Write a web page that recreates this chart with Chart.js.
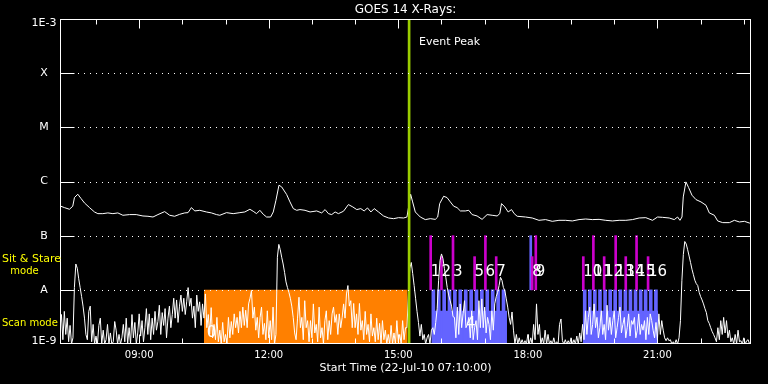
<!DOCTYPE html>
<html><head><meta charset="utf-8">
<script src="https://cdn.jsdelivr.net/npm/chart.js@4/dist/chart.umd.min.js"></script>
<style>html,body{margin:0;padding:0;background:#000;}canvas{display:block;}</style>
</head><body>
<canvas id="c" width="768" height="384"></canvas>
<script>
// ---- time axis: minutes of day (22-Jul-10) ----
const START_MIN = 430;   // 07:10
const END_MIN = 1390;    // 23:10
const xTickHours = [480,540,600,660,720,780,840,900,960,1020,1080,1140,1200,1260,1320,1380];
const xLabelValues = [540,720,900,1080,1260];
const xLabelTexts = ['09:00','12:00','15:00','18:00','21:00'];

// ---- flux axis ----
const yLabelValues = [1e-9,1e-8,1e-7,1e-6,1e-5,1e-4,1e-3];
const yLabelTexts = ['1E-9','A','B','C','M','X','1E-3'];
const yGridValues = [1e-8,1e-7,1e-6,1e-5,1e-4];

// ---- GOES long channel (1-8 A), flux in 1e-7 W/m^2 ----
const longTimes = [430,436.1,443.1,447.7,450.1,454.7,459.3,464.0,471.0,477.9,482.6,489.5,496.5,503.5,510.4,517.4,526.7,535.9,545.2,552.2,559.2,566.1,575.4,582.4,589.3,596.3,603.3,607.9,612.6,617.2,624.2,633.4,640.4,647.4,652.0,661.3,670.6,679.9,686.8,693.8,698.4,703.1,707.7,712.4,717.0,722.6,726.3,730.0,734.2,737.9,744.9,749.5,754.1,758.8,763.4,770.4,777.4,786.6,793.6,798.3,802.9,807.5,812.2,816.8,823.8,830.7,836.8,842.3,847.9,852.6,857.2,861.9,866.5,872.5,879.5,886.5,893.4,900.4,907.4,
912.0,914.3,917.1,919.9,923.6,930.5,937.5,944.5,951.4,954.7,957.5,963.0,967.7,972.3,977.0,981.6,986.3,993.2,997.9,1002.5,1009.5,1016.4,1023.4,1030.4,1037.3,1041.0,1043.4,1048.0,1052.6,1057.3,1061.0,1065.2,1076.8,1086.1,1095.4,1104.6,1113.9,1123.2,1132.5,1141.8,1151.1,1160.4,1169.6,1178.9,1188.2,1197.5,1206.8,1216.1,1225.3,1234.6,1243.9,1253.2,1260.2,1267.1,1276.4,1283.4,1288.0,1291.3,1294.1,1295.9,1299.6,1303.3,1308.0,1313.6,1320.5,1327.5,1332.1,1339.1,1343.7,1350.7,1360.0,1366.9,1373.9,1380.9,1387.8,1390];
const longFluxE7 = [3.54,3.30,3.07,3.49,5.05,5.82,4.84,4.02,3.30,2.74,2.55,2.55,2.63,2.55,2.63,2.38,2.45,2.45,2.31,2.28,2.21,2.45,2.78,2.38,2.28,2.48,2.63,2.66,3.30,2.86,2.94,2.74,2.63,2.45,2.38,2.66,2.55,2.66,2.74,3.07,2.82,2.55,2.94,2.48,2.21,2.21,2.74,4.50,8.54,7.96,5.74,4.20,3.16,2.94,3.03,2.94,2.74,2.86,2.63,3.03,2.55,2.45,2.74,2.55,2.82,3.75,3.39,3.03,3.16,2.86,3.25,2.74,3.16,2.74,2.31,2.12,2.06,2.15,2.12,
2.21,3.39,5.82,4.20,2.74,2.21,1.98,2.06,2.00,2.21,3.91,5.34,5.05,4.20,3.49,3.30,2.86,2.86,2.94,2.45,2.31,2.00,2.45,2.38,2.31,2.55,3.91,3.39,2.74,3.03,2.55,2.28,2.21,2.12,1.92,1.98,1.84,1.92,1.92,1.87,1.98,2.03,1.98,2.00,1.92,1.87,1.92,1.92,1.98,2.12,2.15,1.92,2.21,2.18,2.12,1.98,2.21,1.92,2.21,5.19,9.84,7.73,5.58,4.63,4.20,3.64,2.63,2.38,1.87,1.74,1.74,1.92,1.79,1.84,1.71,1.71];

// ---- GOES short channel (0.5-4 A), 2-minute cadence from 07:10, flux in 1e-9 W/m^2 ----
const shortCadenceMin = 2;
const shortFluxE9 = [2.0,3.5,1.2,4.0,1.5,3.0,1.1,2.2,1.0,1.3,
11,30,25,16,11,7.5,5,3,1.5,
1.2,4.0,5.0,1.1,2.3,1.0,1.4,1.0,2.2,3.0,1.0,1.8,1.0,1.2,2.3,1.0,1.6,1.0,1.1,2.6,1.8,1.0,1.5,1.0,1.3,2.3,1.1,3.0,1.0,2.0,1.0,3.5,1.3,2.5,1.0,1.6,3.6,1.4,2.7,1.1,2.0,4.5,1.5,3.6,
1.2,3.0,1.5,4.0,1.8,2.6,5.2,1.5,3.8,2.2,4.5,1.3,3.0,5.0,2.0,3.5,7.0,3.0,6.5,2.5,5.0,8.0,4.0,7.0,3.5,6.0,11,5.0,7.0,3.0,5.0,2.0,8.0,4.0,6.0,
2.2,5.5,3.0,8.4,2.0,3.5,1.5,4.7,1.3,2.3,1.2,3.1,1.1,1.8,1.0,2.5,1.1,1.5,1.0,3.1,1.3,2.6,1.5,3.6,2.0,3.1,1.6,4.0,2.0,4.8,2.2,4.2,2.0,5.5,7.0,9.7,3.0,4.8,1.8,3.1,1.3,3.1,4.8,1.5,2.4,1.2,4.1,1.3,2.7,1.2,4.8,1.0,
1.5,40,69,55,40,30,21,14,11,9,7,5,3.1,1.6,
1.2,3.0,7.3,2.0,3.1,1.2,6.3,2.0,2.7,1.1,2.7,1.3,5.5,1.6,2.3,1.1,4.8,1.3,2.0,1.0,2.7,4.1,1.2,2.7,1.5,3.6,4.8,2.5,3.5,1.5,3.6,2.0,3.1,5.5,3.0,8.4,12,5.0,
6.3,2.0,5.6,2.0,3.6,1.5,5.6,1.8,2.7,1.2,4.0,1.5,2.3,1.1,3.6,1.4,2.0,1.1,3.0,1.2,2.4,1.0,2.7,1.2,1.8,1.0,1.5,1.0,2.2,1.0,1.6,1.0,2.7,1.1,1.5,1.0,2.7,1.2,2.0,
2.0,8,25,32,20,12,7,4,2.5,1.4,
2.3,1.2,1.5,1.0,1.3,1.5,1.0,1.8,
2.0,1.5,2.5,4.5,15,35,46,38,25,17,11,8,6.3,5,3.2,
3.1,1.3,4.8,1.5,5.5,2.0,3.6,6.3,2.0,2.3,3.1,1.3,4.1,1.2,2.0,2.7,1.2,6.3,2.0,6.8,2.0,4.8,1.6,3.1,2.3,1.2,4.1,1.8,
5.5,7.5,9,12,17,15,11,9.7,6.8,4.8,3.1,2.3,3.9,1.8,
1.0,1.5,1.0,1.3,1.0,1.2,1.0,1.15,1.0,1.5,1.0,1.3,1.0,2.3,1.2,5.5,1.5,2.3,1.0,1.3,1.0,1.8,1.0,1.5,1.0,1.15,1.0,1.3,1.0,1.1,1.0,2.3,2.9,1.15,1.0,1.2,1.0,1.15,1.0,1.3,1.0,1.2,1.0,1.4,1.0,1.6,1.1,
2.3,1.2,4.1,1.5,3.1,4.8,1.5,2.3,5.5,2.0,3.1,1.3,2.0,4.1,1.5,2.3,1.2,5.2,1.8,3.1,1.5,2.7,4.1,1.3,2.0,3.1,4.8,1.6,2.3,3.1,1.3,2.0,3.6,1.4,2.7,2.3,3.1,1.3,1.8,3.6,1.5,2.3,1.8,2.7,1.2,3.1,1.5,3.6,2.7,1.8,1.3,2.5,1.2,
3.6,1.5,2.7,1.8,1.3,1.15,1.3,1.15,1.2,1.0,1.1,1.0,1.2,1.0,1.3,
2.7,15,45,78,70,55,42,32,24,19,15,13,12,9,7.5,6.5,5.5,4.5,3.8,2.7,2.4,2.0,1.7,1.5,1.3,
1.1,2.0,1.2,2.7,1.5,3.1,1.6,2.7,1.3,1.8,1.1,1.3,1.0,1.5,1.0,1.8,1.1,1.15,1.0,1.3,1.0,1.15,1.2,1.0,1.15];

// ---- event peak ----
const eventPeakMin = 915;

// ---- orange observing block ----
const orangeBlockMin = [630, 913];
const orangeBlockTop = 1e-8;

// ---- Sit & Stare pointings ----
const sitStareMin = [945,960,976,1006,1021,1036,1086,1091,1157,1171,1186,1202,1216,1231,1247];
const sitStareTexts = ['1','2','3','5','6','7','8','9','10','11','12','13','14','15','16'];
const sitStareTall = [1,0,1,0,1,0,0,1,0,1,0,1,0,1,0];
const sitStareTallTop = 1e-7;
const sitStareShortTop = 4.1e-8;
const sitStareBase = 1e-8;
const sitStareLabelFlux = 2.1e-8;
const scanMarkerMin = [1084];
const extraLabelMin = [634, 994];
const extraLabelFlux = [1.6e-9, 2.3e-9];
const extraLabelTexts = ['0', '4'];

// ---- Scan mode ----
const scanBarMin = [948.7,956.2,963.7,971.1,978.6,986.1,993.7,1001.2,1008.6,1016.1,1023.6,1031.1,1038.7,1046.2,
1159.0,1166.1,1173.1,1180.2,1187.3,1194.4,1201.3,1208.4,1215.5,1222.5,1229.6,1236.7,1243.6,1250.7,1257.9];
const scanBarTop = 1e-8;
const scanBlockStart = [947, 1157];
const scanBlockEnd = [1051, 1261];
const scanBlockTop = 4.1e-9;

const FLOOR = 1e-9;
const WHITE = '#ffffff', ORANGE = '#ff8000', BLUE = '#6464ff', MAGENTA = '#cc00cc', GREEN = '#9acd00', YELLOW = '#ffff00';

const longData = longTimes.map((t,i)=>({x:t, y:longFluxE7[i]*1e-7}));
const shortData = shortFluxE9.map((v,i)=>({x:START_MIN + i*shortCadenceMin, y:v*1e-9}));

const datasets = [
  {type:'bar', data:[{x:eventPeakMin, y:[FLOOR,1e-3]}], backgroundColor:GREEN, barThickness:2, grouped:false, borderWidth:0},
  {type:'line', data:longData, borderColor:WHITE, borderWidth:1, pointRadius:0, fill:false},
  {type:'line', data:shortData, borderColor:WHITE, borderWidth:1, pointRadius:0, fill:false},
  {type:'bar', data:sitStareMin.map((t,i)=>({x:t, y:[sitStareBase, sitStareTall[i]?sitStareTallTop:sitStareShortTop]})), backgroundColor:MAGENTA, barThickness:2, grouped:false, borderWidth:0},
  {type:'bar', data:scanMarkerMin.map(t=>({x:t, y:[sitStareBase, sitStareTallTop]})), backgroundColor:BLUE, barThickness:2, grouped:false, borderWidth:0},
  {type:'bar', data:scanBarMin.map(t=>({x:t, y:[FLOOR, scanBarTop]})), backgroundColor:BLUE, barThickness:3, grouped:false, borderWidth:0}
];
scanBlockStart.forEach((s,i)=>{
  datasets.push({type:'line', data:[{x:s,y:scanBlockTop},{x:scanBlockEnd[i],y:scanBlockTop}], borderWidth:0, borderColor:'rgba(0,0,0,0)', backgroundColor:BLUE, pointRadius:0, fill:'start'});
});
datasets.push({type:'line', data:[{x:orangeBlockMin[0],y:orangeBlockTop},{x:orangeBlockMin[1],y:orangeBlockTop}], borderWidth:0, borderColor:'rgba(0,0,0,0)', backgroundColor:ORANGE, pointRadius:0, fill:'start'});

const FONT = '"DejaVu Sans", sans-serif';
const framePlugin = {
  id:'frame',
  afterDatasetsDraw(chart){
    const {ctx, chartArea:a, scales:{x, y}} = chart;
    const L = Math.round(a.left)+0.5, R = Math.round(a.right)-0.5, T = Math.round(a.top)+0.5, B = Math.round(a.bottom)-0.5;
    ctx.save();
    ctx.strokeStyle = WHITE; ctx.lineWidth = 1;
    // dotted decade grid and side ticks
    yGridValues.forEach(v=>{
      const py = Math.round(y.getPixelForValue(v))+0.5;
      ctx.setLineDash([]);
      ctx.beginPath(); ctx.moveTo(L,py); ctx.lineTo(L+14,py); ctx.moveTo(R-14,py); ctx.lineTo(R,py); ctx.stroke();
      ctx.setLineDash([1,5]);
      ctx.beginPath(); ctx.moveTo(Math.round(a.left)+18,py); ctx.lineTo(Math.round(a.right)-16,py); ctx.stroke();
    });
    ctx.setLineDash([]);
    // frame
    ctx.strokeRect(L, T, R-L, B-T);
    // time ticks
    xTickHours.forEach(m=>{
      const px = Math.round(x.getPixelForValue(m))+0.5;
      const len = xLabelValues.includes(m) ? 9 : 5;
      ctx.beginPath(); ctx.moveTo(px,T); ctx.lineTo(px,T+len); ctx.moveTo(px,B); ctx.lineTo(px,B-len); ctx.stroke();
    });
    // axis labels
    ctx.fillStyle = WHITE;
    ctx.textAlign = 'center'; ctx.textBaseline = 'middle';
    ctx.font = '11px ' + FONT;
    yLabelValues.forEach((v,i)=>{
      let py = y.getPixelForValue(v);
      if (i === 0) py -= 3;
      if (i === yLabelValues.length-1) py += 4;
      ctx.fillText(yLabelTexts[i], 44, py);
    });
    ctx.font = '10px ' + FONT;
    xLabelValues.forEach((m,i)=>{
      ctx.fillText(xLabelTexts[i], x.getPixelForValue(m), 355.5);
    });
    ctx.font = '11px ' + FONT;
    ctx.fillText('Start Time (22-Jul-10 07:10:00)', (a.left+a.right)/2, 368.5);
    ctx.font = '12px ' + FONT;
    ctx.fillText('GOES 14 X-Rays:', (a.left+a.right)/2, 10);
    // event peak
    ctx.textAlign = 'left';
    ctx.font = '11px ' + FONT;
    ctx.fillText('Event Peak', x.getPixelForValue(eventPeakMin)+10, 42.5);
    // mode labels
    ctx.fillStyle = YELLOW;
    ctx.font = '11px ' + FONT;
    ctx.fillText('Sit & Stare', 2, 259);
    ctx.textAlign = 'center';
    ctx.font = '10px ' + FONT;
    ctx.fillText('mode', 24.5, 271);
    ctx.textAlign = 'left';
    ctx.fillText('Scan mode', 2, 323.5);
    // sit & stare numbers
    ctx.fillStyle = WHITE;
    ctx.font = '15px ' + FONT;
    sitStareMin.forEach((m,i)=>{
      ctx.fillText(sitStareTexts[i], x.getPixelForValue(m), y.getPixelForValue(sitStareLabelFlux));
    });
    extraLabelMin.forEach((m,i)=>{
      ctx.fillText(extraLabelTexts[i], x.getPixelForValue(m), y.getPixelForValue(extraLabelFlux[i]));
    });
    ctx.restore();
  }
};

new Chart(document.getElementById('c').getContext('2d'), {
  type:'line',
  data:{datasets},
  options:{
    responsive:false, animation:false, events:[],
    layout:{padding:{left:60, right:17, top:19, bottom:40}},
    scales:{
      x:{type:'linear', min:START_MIN, max:END_MIN, display:false, offset:false},
      y:{type:'logarithmic', min:1e-9, max:1e-3, display:false}
    },
    plugins:{legend:{display:false}, tooltip:{enabled:false}, title:{display:false}},
    elements:{point:{radius:0}, line:{tension:0}}
  },
  plugins:[framePlugin]
});
</script>
</body></html>
